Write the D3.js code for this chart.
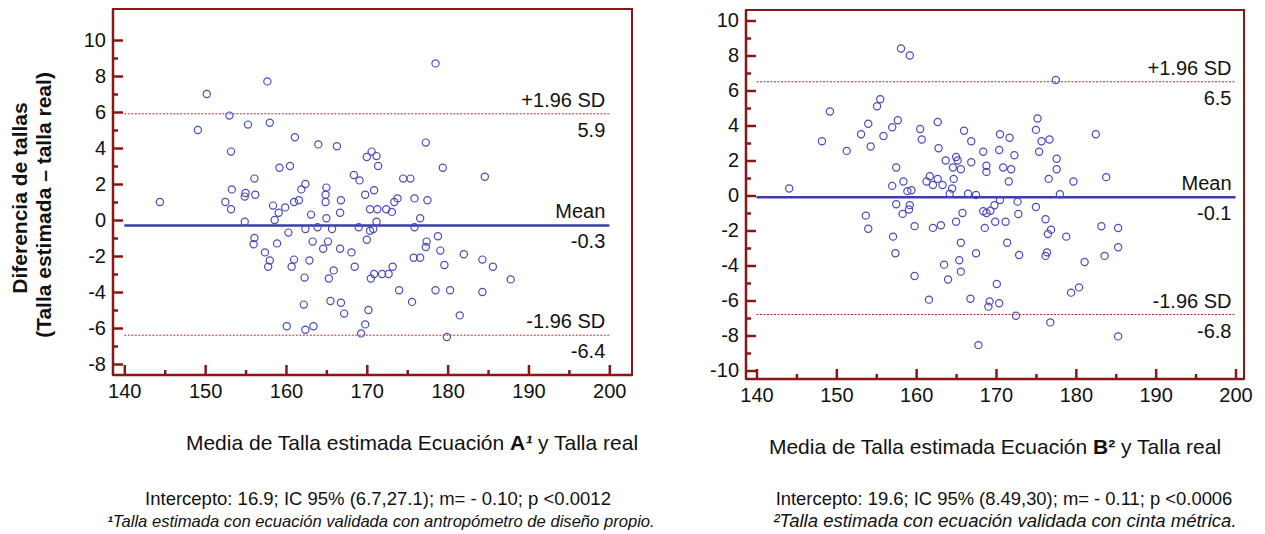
<!DOCTYPE html>
<html>
<head>
<meta charset="utf-8">
<script src="https://cdn.jsdelivr.net/npm/d3@7"></script>
<style>
  body { margin: 0; background: #fff; }
  svg { font-family: "Liberation Sans", Arial, sans-serif; }
</style>
</head>
<body>
<div id="chart"></div>
<script>
// Panel A: mean of estimated and real height (x) vs difference (y)
const xA = [144.4,149.1,150.2,153.0,153.2,155.3,157.7,158.0,161.1,159.2,160.5,164.0,166.3,156.1,153.3,155.0,154.9,156.2,161.9,162.4,
  165.0,164.9,166.8,168.4,169.1,169.8,170.9,170.6,170.0,171.2,171.4,152.5,161.0,161.6,153.2,154.9,158.4,159.1,158.6,159.9,
  164.9,166.7,163.1,165.0,170.4,171.3,171.2,169.0,170.4,170.8,160.3,162.4,163.9,165.7,156.1,156.0,158.9,163.3,165.2,164.6,
  166.7,168.1,170.0,157.4,158.0,157.8,161.0,160.7,162.9,165.9,165.3,162.3,168.5,170.9,170.5,162.2,165.5,166.8,167.2,170.2,
  160.1,162.4,163.4,169.8,169.3,172.4,173.1,173.4,173.8,175.9,177.5,176.6,175.9,178.8,177.4,177.3,179.1,182.0,184.3,185.6,
  187.8,175.8,176.6,179.6,171.9,172.7,173.2,174.0,178.5,180.3,184.3,175.6,181.5,179.9,178.5,177.3,179.4,184.6,174.5,175.4];
const yA = [1.0,5.0,7.0,5.8,3.8,5.3,7.7,5.4,4.6,2.9,3.0,4.2,4.1,2.3,1.7,1.5,1.3,1.4,1.7,2.0,
  1.8,1.4,1.1,2.5,2.2,1.4,1.65,3.8,3.5,3.55,3.0,1.0,1.0,1.1,0.6,-0.1,0.8,0.4,0.0,0.7,
  1.0,0.4,0.3,0.1,0.6,0.6,-0.1,-0.4,-0.6,-0.5,-0.7,-0.5,-0.4,-0.5,-1.0,-1.35,-1.3,-1.2,-1.2,-1.6,
  -1.6,-1.8,-1.1,-1.8,-2.25,-2.6,-2.2,-2.6,-2.25,-2.8,-3.25,-3.2,-2.6,-3.0,-3.25,-4.7,-4.5,-4.6,-5.2,-5.0,
  -5.9,-6.1,-5.9,-5.8,-6.3,0.6,0.45,1.0,1.2,1.2,1.1,0.1,-0.4,-0.9,-1.2,-1.5,-1.7,-1.9,-2.2,-2.6,
  -3.3,-2.1,-2.1,-2.5,-3.0,-3.0,-2.6,-3.9,-3.9,-3.9,-4.0,-4.55,-5.3,-6.5,8.7,4.3,2.9,2.4,2.3,2.3];

// Panel B
const xB = [144.1,148.2,149.2,151.3,153.1,154.0,154.3,155.1,155.5,155.9,157.0,157.7,158.1,159.2,157.5,157.0,158.4,158.9,159.4,160.5,
  160.7,162.7,162.8,161.3,161.7,162.1,162.7,163.3,163.7,164.6,164.7,164.5,164.2,165.0,165.2,165.6,166.0,166.9,166.9,166.5,
  167.5,168.4,168.8,168.8,177.5,175.2,175.0,170.5,171.7,175.7,176.7,182.5,170.4,172.3,175.4,177.6,170.9,171.9,177.6,171.6,
  176.6,179.7,183.8,178.0,153.7,154.0,157.1,157.4,157.5,158.3,159.2,159.1,159.8,159.8,161.6,162.1,163.1,163.5,164.0,165.0,
  165.4,165.6,165.6,165.8,166.8,167.5,167.8,168.4,168.8,168.6,169.2,169.05,170.5,172.7,169.8,169.3,175.0,172.8,169.9,171.2,
  176.2,183.2,185.3,176.9,176.5,178.8,171.4,172.9,176.4,176.2,181.1,183.6,185.3,170.1,170.4,179.4,180.4,172.5,176.8,185.3];
const yB = [0.4,3.1,4.8,2.55,3.5,4.1,2.8,5.1,5.5,3.4,3.9,4.3,8.4,8.0,1.6,0.55,0.8,0.25,0.3,3.8,
  3.2,4.2,2.7,0.8,1.1,0.6,0.95,0.6,2.0,1.6,0.95,0.4,0.1,2.2,2.0,1.5,3.7,3.1,1.9,0.1,
  0.03,2.5,1.7,1.35,6.6,4.4,3.75,3.5,3.3,3.1,3.2,3.5,2.6,2.3,2.5,2.1,1.6,1.5,1.5,0.8,
  0.95,0.8,1.05,0.07,-1.15,-1.9,-2.35,-3.3,-0.5,-1.05,-0.55,-0.8,-1.75,-4.6,-5.95,-1.85,-1.7,-3.95,-4.8,-1.5,
  -3.7,-2.7,-4.35,-1.0,-5.9,-3.3,-8.55,-0.9,-1.0,-1.85,-6.05,-6.35,-0.26,-0.35,-0.56,-0.87,-0.66,-1.06,-1.5,-1.5,
  -1.36,-1.76,-1.86,-1.95,-2.2,-2.35,-2.7,-3.4,-3.25,-3.45,-3.8,-3.45,-2.96,-5.06,-6.16,-5.55,-5.25,-6.87,-7.25,-8.05];

// mean and limits of agreement
const statsA = { mean: -0.3, upper: 5.9, lower: -6.4 };
const statsB = { mean: -0.1, upper: 6.5, lower: -6.8 };

const xTicks = [140, 150, 160, 170, 180, 190, 200];
const yTicksA = [-8, -6, -4, -2, 0, 2, 4, 6, 8, 10];
const yTicksB = [-10, -8, -6, -4, -2, 0, 2, 4, 6, 8, 10];

const frameColor = "#8b1616";
const dotColor = "#4b4bbb";

const svg = d3.select("#chart").append("svg")
  .attr("width", 1265).attr("height", 534);

function drawPanel(p) {
  const g = svg.append("g");
  const x = d3.scaleLinear().domain([140, 200]).range([p.xr0, p.xr1]);
  const y = d3.scaleLinear().domain(p.yDomain).range(p.yRange);

  // frame
  g.append("rect")
    .attr("x", p.left).attr("y", p.top)
    .attr("width", p.right - p.left).attr("height", p.bottom - p.top)
    .attr("fill", "none").attr("stroke", frameColor).attr("stroke-width", 2);

  // y axis (ticks pointing inside), plain hyphen for negatives
  const fmt = d => String(d);
  const yMinor = d3.range(p.yDomain[0] + 1, p.yDomain[1], 2);
  g.append("g").attr("transform", "translate(" + p.left + ",0)")
    .call(d3.axisLeft(y).tickValues(p.yTicks).tickSize(-10).tickPadding(7).tickFormat(fmt));
  g.append("g").attr("transform", "translate(" + p.left + ",0)")
    .call(d3.axisLeft(y).tickValues(yMinor).tickSize(-5).tickFormat(""));

  const xMinor = d3.range(145, 200, 10);
  g.append("g").attr("transform", "translate(0," + p.bottom + ")")
    .call(d3.axisBottom(x).tickValues(xTicks).tickSize(-10).tickPadding(9).tickFormat(fmt));
  g.append("g").attr("transform", "translate(0," + p.bottom + ")")
    .call(d3.axisBottom(x).tickValues(xMinor).tickSize(-5).tickFormat(""));

  g.selectAll(".domain").remove();
  g.selectAll(".tick line").attr("stroke", frameColor).attr("stroke-width", 2.5);
  g.selectAll(".tick text").attr("font-size", 20).attr("fill", "#111")
    .attr("font-family", "Liberation Sans, Arial, sans-serif");

  // thicker left/bottom edge
  g.append("line").attr("x1", p.left).attr("x2", p.left).attr("y1", p.top).attr("y2", p.bottom)
    .attr("stroke", frameColor).attr("stroke-width", 2.5);
  g.append("line").attr("x1", p.left).attr("x2", p.right).attr("y1", p.bottom).attr("y2", p.bottom)
    .attr("stroke", frameColor).attr("stroke-width", 2.5);

  // limit lines
  [p.stats.upper, p.stats.lower].forEach(v => {
    g.append("line")
      .attr("x1", x(140)).attr("x2", x(200)).attr("y1", y(v)).attr("y2", y(v))
      .attr("stroke", "#b52a2a").attr("stroke-width", 1).attr("stroke-dasharray", "2,1.5");
  });
  g.append("line")
    .attr("x1", x(140)).attr("x2", x(200)).attr("y1", y(p.stats.mean)).attr("y2", y(p.stats.mean))
    .attr("stroke", "#3c3ca8").attr("stroke-width", 2.5);

  // line labels
  const lab = [
    ["+1.96 SD", p.stats.upper, -7],
    [p.stats.upper.toFixed(1), p.stats.upper, 23],
    ["Mean", p.stats.mean, -7],
    [p.stats.mean.toFixed(1), p.stats.mean, 23],
    ["-1.96 SD", p.stats.lower, -7],
    [p.stats.lower.toFixed(1), p.stats.lower, 23]
  ];
  g.selectAll(".lbl").data(lab).enter().append("text")
    .attr("x", x(200) - 4).attr("y", d => y(d[1]) + d[2])
    .attr("text-anchor", "end").attr("font-size", 20).attr("fill", "#111")
    .text(d => d[0]);

  // points
  g.selectAll(".pt").data(p.xs).enter().append("circle")
    .attr("cx", d => x(d)).attr("cy", (d, i) => y(p.ys[i]))
    .attr("r", 3.6).attr("fill", "none")
    .attr("stroke", dotColor).attr("stroke-width", 1.2);

  // axis title
  const t = g.append("text").attr("x", p.titleX).attr("y", p.titleY)
    .attr("text-anchor", "middle").attr("font-size", 21).attr("fill", "#111");
  t.append("tspan").text("Media de Talla estimada Ecuación ");
  t.append("tspan").attr("font-weight", "bold").text(p.letter);
  t.append("tspan").attr("font-weight", "bold").attr("font-style", p.supItalic ? "italic" : "normal").text(p.sup);
  t.append("tspan").text(" y Talla real");

  g.append("text").attr("x", p.noteX).attr("y", 505)
    .attr("text-anchor", "middle").attr("font-size", p.noteSize).attr("fill", "#111")
    .text(p.note);
  const f = g.append("text").attr("x", p.footX).attr("y", 527)
    .attr("text-anchor", "middle").attr("font-size", p.footSize).attr("font-style", "italic").attr("fill", "#111");
  f.append("tspan").attr("font-weight", p.supItalic ? "bold" : "normal").text(p.sup);
  f.append("tspan").text(p.foot);
}

drawPanel({
  left: 113, right: 632, top: 9, bottom: 375,
  xr0: 124.3, xr1: 609.3, yDomain: [-8, 10], yRange: [364, 40], yTicks: yTicksA,
  xs: xA, ys: yA, stats: statsA,
  titleX: 412, titleY: 450, letter: "A", sup: "¹", supItalic: true,
  noteX: 378, noteSize: 18.5, note: "Intercepto: 16.9; IC 95% (6.7,27.1); m= - 0.10; p <0.0012",
  footX: 381, footSize: 16.6, foot: "Talla estimada con ecuación validada con antropómetro de diseño propio."
});

drawPanel({
  left: 746, right: 1244, top: 10, bottom: 379,
  xr0: 756.5, xr1: 1235.5, yDomain: [-10, 10], yRange: [370.5, 20.5], yTicks: yTicksB,
  xs: xB, ys: yB, stats: statsB,
  titleX: 995, titleY: 454, letter: "B", sup: "²", supItalic: false,
  noteX: 1004, noteSize: 18.4, note: "Intercepto: 19.6; IC 95% (8.49,30); m= - 0.11; p <0.0006",
  footX: 1005, footSize: 18.5, foot: "Talla estimada con ecuación validada con cinta métrica."
});

// y axis title (shared, left)
svg.append("text").attr("transform", "translate(27,198) rotate(-90)")
  .attr("text-anchor", "middle").attr("font-size", 21).attr("font-weight", "bold").attr("fill", "#111")
  .text("Diferencia de tallas");
svg.append("text").attr("transform", "translate(51,205) rotate(-90)")
  .attr("text-anchor", "middle").attr("font-size", 21).attr("font-weight", "bold").attr("fill", "#111")
  .text("(Talla estimada – talla real)");
</script>
</body>
</html>
